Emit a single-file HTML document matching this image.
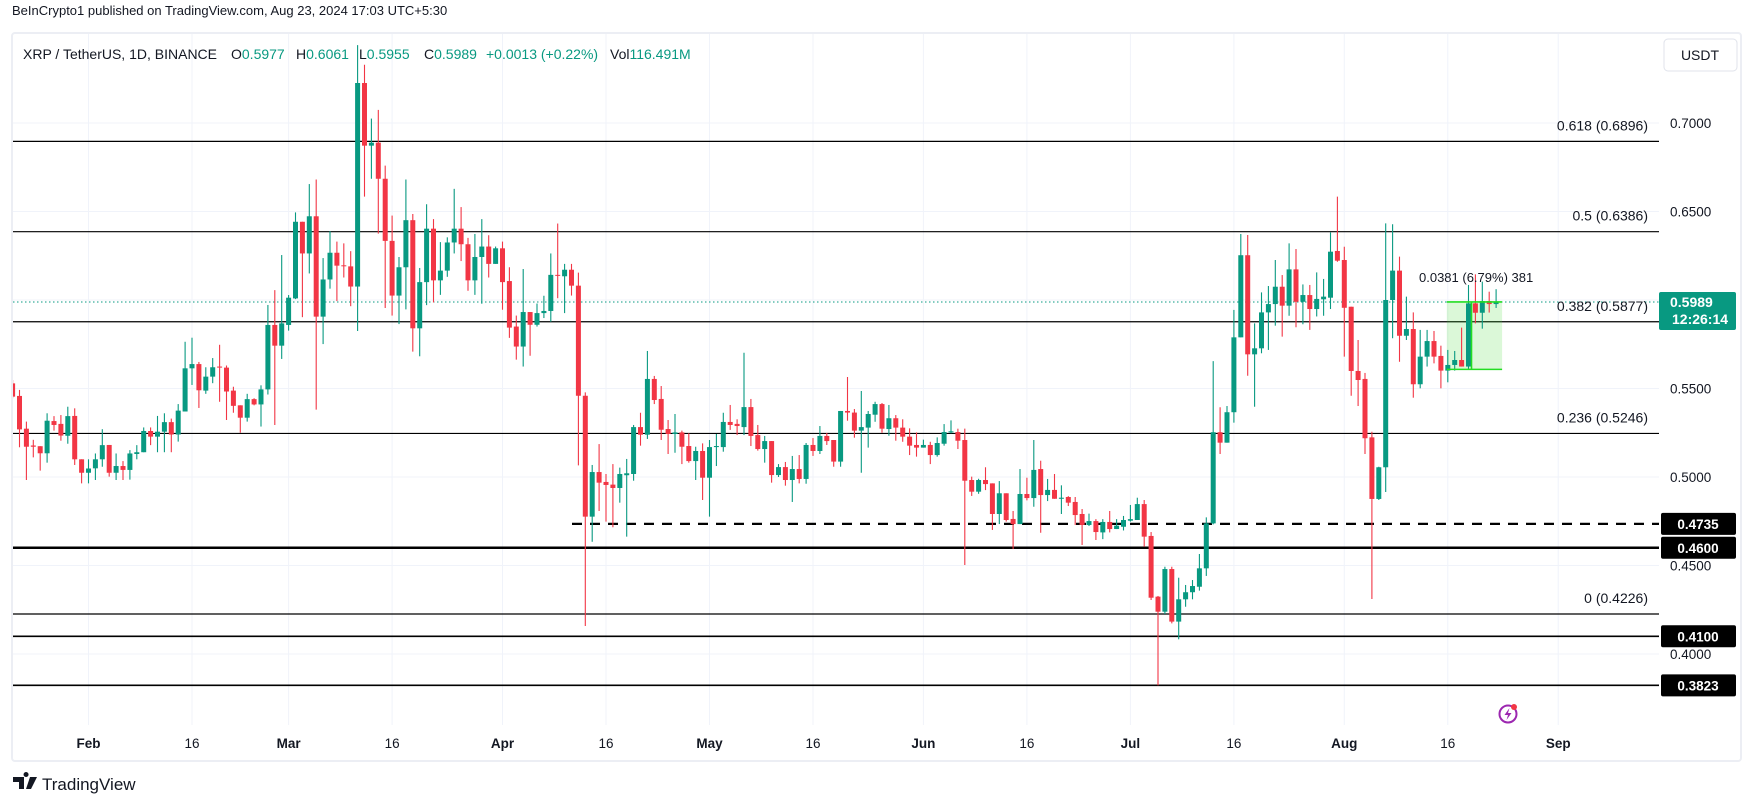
<!DOCTYPE html>
<html><head><meta charset="utf-8"><style>
html,body{margin:0;padding:0;background:#fff;width:1754px;height:805px;overflow:hidden;font-family:"Liberation Sans",sans-serif}
svg{display:block}
text{font-family:"Liberation Sans",sans-serif}
</style></head><body>
<svg id="chart" width="1754" height="805" viewBox="0 0 1754 805">
<defs><clipPath id="plotClip"><rect x="13" y="34" width="1646" height="691"/></clipPath></defs>
<text x="12" y="15" font-size="13" fill="#131722">BeInCrypto1 published on TradingView.com, Aug 23, 2024 17:03 UTC+5:30</text>
<rect x="12" y="33" width="1729" height="728" fill="#fff" stroke="#eceef4" stroke-width="2" rx="3"/>
<g id="grid"></g>
<g id="levels" clip-path="url(#plotClip)"></g>
<g id="candles" clip-path="url(#plotClip)"></g>
<g id="overlay"></g>
<g font-size="14">
<text x="23" y="59" fill="#131722">XRP / TetherUS, 1D, BINANCE</text>
<text x="231" y="59" fill="#131722">O<tspan fill="#089981">0.5977</tspan></text>
<text x="296" y="59" fill="#131722">H<tspan fill="#089981">0.6061</tspan></text>
<text x="359" y="59" fill="#131722">L<tspan fill="#089981">0.5955</tspan></text>
<text x="424" y="59" fill="#131722">C<tspan fill="#089981">0.5989</tspan></text>
<text x="486" y="59" fill="#089981">+0.0013 (+0.22%)</text>
<text x="610" y="59" fill="#131722">Vol<tspan fill="#089981">116.491M</tspan></text>
</g>
<g>
<rect x="1664" y="39" width="73" height="32" rx="4" fill="#fff" stroke="#e0e3eb"/>
<text x="1700" y="60" font-size="14" fill="#131722" text-anchor="middle">USDT</text>
</g>
<g>
<path d="M13 777h11v12h-5v-7h-6z M26 777a2.5 2.5 0 1 1 0.1 0z M30 777h7l-6 12h-5z" fill="#131722"/>
<text x="42" y="790" font-size="17" fill="#131722">TradingView</text>
</g>
<g>
<circle cx="1508" cy="714" r="8.5" fill="none" stroke="#9c27b0" stroke-width="2"/>
<path d="M1509.5 708l-5 7h3.5l-1.5 5 5-7h-3.5z" fill="#9c27b0"/>
<circle cx="1514" cy="707" r="3" fill="#f23645"/>
</g>
</svg>
<script>
const opens=[.5529,.5458,.5273,.5178,.5174,.5134,.5316,.53,.5233,.5345,.51,.5024,.5049,.51,.5181,.5024,.5062,.504,.513,.514,.526,.5228,.5256,.531,.524,.537,.5614,.5638,.5488,.5567,.5624,.5618,.5488,.5405,.5335,.544,.541,.5495,.5859,.5742,.5859,.6009,.6442,.6263,.6473,.5906,.6116,.6267,.6196,.619,.6076,.7226,.6872,.6889,.6685,.6334,.6025,.6185,.6451,.584,.6101,.6403,.6111,.6166,.6325,.6403,.6315,.6111,.6243,.6302,.6204,.6292,.6107,.585,.5737,.5932,.586,.5926,.5938,.6142,.6134,.6171,.6081,.5459,.4776,.5028,.4972,.4957,.4938,.501,.5017,.5282,.5239,.5554,.5441,.5271,.5243,.5252,.5175,.509,.5147,.4996,.5169,.5169,.5311,.53,.5282,.5395,.5237,.5158,.5203,.5011,.5056,.4983,.5045,.4989,.5181,.5147,.5232,.5209,.5087,.5373,.5364,.5262,.5279,.5352,.5412,.5271,.5332,.5279,.5228,.5181,.5166,.5181,.5124,.5188,.5252,.5254,.5209,.4983,.4917,.4983,.4964,.4791,.4908,.4763,.4734,.4904,.4881,.5045,.4898,.4927,.4877,.4887,.4859,.4791,.4729,.4751,.4687,.4746,.4706,.4719,.4753,.4757,.4847,.4667,.4324,.4239,.448,.4183,.4309,.4349,.438,.4484,.4738,.5253,.5194,.5366,.5789,.6253,.5693,.5727,.593,.5977,.6075,.5968,.6173,.599,.6028,.5949,.6004,.6013,.6277,.6226,.5962,.5599,.5554,.5224,.4876,.5055,.6,.6166,.5798,.5836,.5524,.568,.5768,.5684,.5601,.5633,.5661,.5624,.5981,.5928,.5994,.5977];
const highs=[.5548,.5492,.5313,.521,.5174,.536,.5344,.535,.5397,.5388,.51,.51,.5133,.527,.5181,.5133,.509,.5152,.518,.528,.528,.5345,.536,.533,.5412,.5764,.5787,.565,.562,.5672,.5747,.563,.551,.5405,.547,.5445,.5518,.5972,.6056,.6254,.6028,.6495,.6442,.6655,.6681,.6237,.6389,.633,.632,.6276,.744,.7329,.7025,.7074,.6759,.6477,.6243,.6681,.6486,.6181,.6541,.6457,.6327,.6354,.6628,.6525,.6351,.6373,.6457,.6366,.6302,.633,.6185,.5912,.6175,.5932,.598,.6024,.6263,.6432,.6204,.6204,.6155,.5478,.5068,.5186,.5017,.5073,.5053,.5102,.5294,.5363,.5712,.5571,.5514,.5322,.5356,.5262,.5247,.5171,.519,.5209,.5243,.5363,.5407,.5326,.5702,.5441,.5294,.5232,.5203,.5073,.5085,.5119,.5124,.5192,.522,.5288,.5249,.5209,.5373,.5565,.5384,.5486,.5373,.5425,.5418,.5407,.535,.5326,.5275,.5252,.5211,.5199,.5224,.5299,.532,.5273,.5273,.5002,.499,.5055,.4964,.4977,.4908,.4808,.5045,.4996,.5209,.5092,.4989,.5017,.4953,.4892,.4887,.4819,.4793,.4762,.4762,.4808,.4762,.478,.4842,.4883,.487,.4689,.4328,.4493,.4493,.4431,.439,.4418,.4565,.4772,.5655,.5394,.5401,.5944,.6373,.6367,.5868,.6043,.6079,.6226,.6141,.632,.6288,.6088,.6085,.6156,.6119,.6382,.6584,.6301,.5962,.5774,.5588,.5256,.5058,.6433,.6428,.6245,.6019,.593,.5831,.5831,.5825,.5742,.5718,.5712,.5844,.6085,.6145,.6104,.6047,.6061];
const lows=[.5445,.5168,.4983,.5111,.5036,.5081,.5262,.5205,.5188,.5068,.4964,.4964,.4983,.5058,.5002,.4983,.4983,.4985,.51,.514,.518,.514,.514,.514,.52,.537,.552,.539,.547,.553,.5425,.5322,.5363,.525,.5313,.5405,.5285,.5466,.5294,.5667,.5827,.6005,.5903,.615,.5381,.5751,.6064,.5994,.6127,.5965,.5825,.6584,.6685,.6375,.5955,.5912,.5864,.5947,.5708,.5682,.5971,.5986,.6029,.6131,.6263,.622,.6052,.6029,.5979,.6127,.6204,.5945,.5786,.5663,.5624,.5685,.585,.5898,.5877,.601,.5926,.6025,.5066,.4158,.4634,.4808,.4748,.4716,.4855,.4663,.4979,.5177,.5215,.5412,.5209,.513,.5137,.5073,.5081,.4983,.487,.4776,.5062,.5143,.5266,.5237,.5237,.5175,.5149,.5081,.4968,.5,.4951,.4859,.4964,.4962,.5119,.513,.5181,.5058,.5058,.5318,.5222,.5024,.5166,.5312,.525,.5233,.5205,.5199,.5124,.5115,.5166,.5073,.5115,.5177,.5247,.5158,.4503,.4893,.4905,.4926,.4701,.4734,.4748,.4593,.4734,.4868,.4832,.4685,.4864,.4877,.4791,.4836,.4729,.4616,.4723,.4644,.4649,.4687,.4706,.4698,.4748,.4757,.4606,.4305,.3823,.4226,.4173,.4083,.4267,.4309,.4358,.4441,.4732,.513,.5194,.5307,.5789,.5572,.5397,.5699,.5718,.5855,.5793,.5911,.5846,.5863,.5831,.5907,.5911,.5949,.6216,.568,.5459,.5401,.513,.4311,.487,.4915,.5784,.5651,.5774,.5448,.5501,.5624,.5642,.5501,.5535,.5601,.5624,.5605,.5868,.5838,.5929,.5955];
const closes=[.5454,.5269,.5171,.5171,.5134,.5318,.5294,.5234,.5344,.51,.5024,.5048,.51,.518,.5024,.5062,.504,.5133,.514,.526,.5228,.5256,.531,.524,.5375,.5614,.5638,.549,.5567,.562,.5618,.5483,.5402,.5335,.544,.541,.5495,.5859,.5742,.5868,.6013,.6442,.6263,.6473,.5906,.6116,.6267,.6194,.6192,.6076,.7226,.6872,.6889,.6685,.6334,.6025,.6185,.6451,.584,.6101,.6403,.6111,.6166,.6325,.6403,.6315,.6111,.6243,.6302,.6204,.6292,.6101,.5844,.5737,.5932,.586,.5926,.5938,.6142,.6138,.6171,.6081,.5459,.4776,.5028,.4968,.4955,.4938,.5017,.5021,.5282,.5239,.5554,.5435,.5267,.5243,.5252,.5171,.509,.5147,.4996,.5169,.5175,.5311,.5294,.5288,.5395,.5232,.5158,.5203,.5011,.5056,.4983,.5045,.4989,.5181,.5147,.5232,.5203,.5087,.5373,.5364,.5262,.5282,.5356,.5412,.5273,.5332,.5279,.5228,.5177,.5166,.5181,.5124,.5192,.5254,.5258,.5205,.4979,.4917,.4983,.496,.4791,.4908,.4757,.4734,.4904,.4881,.504,.4898,.4927,.4877,.4883,.4855,.4785,.4729,.4751,.4689,.4746,.4706,.4725,.4757,.4762,.4847,.4663,.4318,.4239,.448,.4183,.4309,.4349,.4384,.4484,.4738,.5253,.5194,.5366,.5789,.6253,.5693,.5727,.593,.5977,.6075,.5968,.6173,.599,.6028,.5949,.6006,.6019,.6273,.6222,.5956,.5599,.5548,.5219,.4876,.5055,.6,.6166,.5798,.5836,.5524,.568,.5768,.568,.5601,.5633,.5661,.5624,.5981,.5928,.5994,.5977,.5989];
const firstDayOffset=-11; // first candle = Jan 21 (days relative to Feb 1)
const priceTicks=[0.40,0.45,0.50,0.55,0.60,0.65,0.70];
const priceTickLabels=["0.4000","0.4500","0.5000","0.5500","","0.6500","0.7000"];
const timeTickDays=[0,15,29,44,60,75,90,105,121,136,151,166,182,197,213];
const timeTickLabels=["Feb","16","Mar","16","Apr","16","May","16","Jun","16","Jul","16","Aug","16","Sep"];
const timeTickBold=[1,0,1,0,1,0,1,0,1,0,1,0,1,0,1];
const fibLevels=[0.6896,0.6386,0.5877,0.5246,0.4226];
const fibLabels=["0.618 (0.6896)","0.5 (0.6386)","0.382 (0.5877)","0.236 (0.5246)","0 (0.4226)"];
const hLevels=[0.4735,0.4600,0.4100,0.3823];
const hLevelLabels=["0.4735","0.4600","0.4100","0.3823"];
const lastPrice=0.5989;
const measureFrom=0.5608;

const NS="http://www.w3.org/2000/svg";
const PL=13,PR=1659,PT=34,PB=725;
function xDay(d){return 88.5+d*6.9;}
function yP(p){return 477-(p-0.5)*1770;}
function mk(tag,attrs,parent){const e=document.createElementNS(NS,tag);for(const k in attrs)e.setAttribute(k,attrs[k]);parent.appendChild(e);return e;}
const grid=document.getElementById('grid'),levels=document.getElementById('levels'),cg=document.getElementById('candles'),ov=document.getElementById('overlay');

priceTicks.forEach((p,i)=>{
  const l=mk('line',{x1:PL,x2:PR,y1:yP(p),y2:yP(p),stroke:'#f0f3fa','stroke-width':1},grid);
  
  
  if(priceTickLabels[i]){
    const t=mk('text',{x:1670,y:yP(p)+5,'font-size':13.5,fill:'#131722'},grid);
    t.textContent=priceTickLabels[i];
    
    
  }
});
timeTickDays.forEach((d,i)=>{
  const x=xDay(d);
  const l=mk('line',{x1:x,x2:x,y1:PT,y2:PB,stroke:'#f0f3fa','stroke-width':1},grid);
  
  
  const t=mk('text',{x:x,y:748,'font-size':13.5,fill:'#131722','text-anchor':'middle','font-weight':timeTickBold[i]?'bold':'normal'},grid);
  t.textContent=timeTickLabels[i];
  
  
});

fibLevels.forEach((p,i)=>{
  const l=mk('line',{x1:PL,x2:PR,y1:yP(p),y2:yP(p),stroke:'#000','stroke-width':1.2},levels);
  
  
  const t=mk('text',{x:1648,y:yP(p)-11,'font-size':14,fill:'#131722','text-anchor':'end'},ov);
  t.textContent=fibLabels[i];
  
  
});
hLevels.forEach((p,i)=>{
  const a={x1:PL,x2:PR,y1:yP(p),y2:yP(p),stroke:'#000','stroke-width':i===1?2.5:1.6};
  if(i===0){a.x1=572;a['stroke-dasharray']='10 8';a['stroke-width']=2.2;}
  const l=mk('line',a,levels);
  
  
  const r=mk('rect',{x:1661,y:yP(p)-11,width:75,height:22,rx:2,fill:'#000'},ov);
  
  
  const t=mk('text',{x:1698,y:yP(p)+5,'font-size':13.5,fill:'#fff','text-anchor':'middle','font-weight':'bold'},ov);
  t.textContent=hLevelLabels[i];
  
  
});

// measure tool
const mx1=xDay(197)-1, mx2=xDay(204)+6, mxv=xDay(200)+3;
const mr=mk('rect',{x:mx1,y:yP(lastPrice),width:mx2-mx1,height:yP(measureFrom)-yP(lastPrice),fill:'rgba(76,220,60,0.2)'},levels);



// last price dotted line
const lp=mk('line',{x1:PL,x2:PR,y1:yP(lastPrice),y2:yP(lastPrice),stroke:'#089981','stroke-width':1,'stroke-dasharray':'1.5 2.5'},levels);



for(let i=0;i<opens.length;i++){
  const x=xDay(firstDayOffset+i);
  const up=closes[i]>=opens[i];
  const col=up?'#089981':'#f23645';
  const g=mk('g',{},cg);
  
  
  mk('line',{x1:x,x2:x,y1:yP(highs[i]),y2:yP(lows[i]),stroke:col,'stroke-width':1.1},g);
  const top=yP(Math.max(opens[i],closes[i])),bot=yP(Math.min(opens[i],closes[i]));
  mk('rect',{x:x-2.5,y:top,width:5,height:Math.max(1,bot-top),fill:col},g);
}

// measure tool lines
[lastPrice,measureFrom].forEach(p=>{
  const l=mk('line',{x1:mx1,x2:mx2,y1:yP(p),y2:yP(p),stroke:'#22dd22','stroke-width':1.6},ov);
  
  
});
const mv=mk('line',{x1:mxv,x2:mxv,y1:yP(lastPrice),y2:yP(measureFrom),stroke:'#22dd22','stroke-width':1.6},ov);


const mt=mk('text',{x:1419,y:282,'font-size':13,fill:'#131722'},ov);
mt.textContent='0.0381 (6.79%) 381';



// current price tag
const cr=mk('rect',{x:1659,y:yP(lastPrice)-10,width:77,height:38,rx:2,fill:'#089981'},ov);


const ct=mk('text',{x:1670,y:yP(lastPrice)+5,'font-size':14,fill:'#fff','font-weight':'bold'},ov);
ct.textContent=lastPrice.toFixed(4);


const cd=mk('text',{x:1672,y:yP(lastPrice)+22,'font-size':14,fill:'#fff','font-weight':'bold'},ov);
cd.textContent='12:26:14';


</script>
</body></html>
